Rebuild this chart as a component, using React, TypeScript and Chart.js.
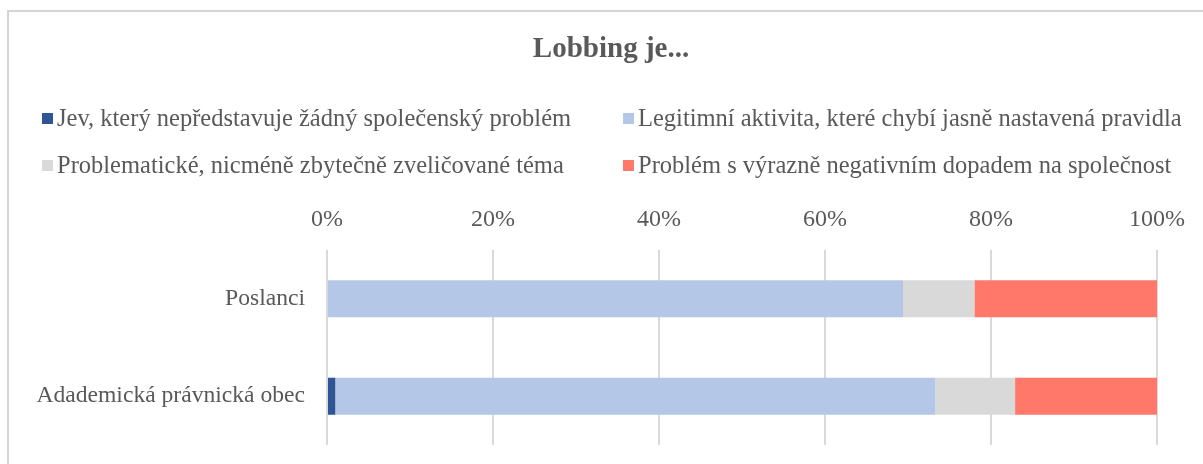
import React, { useEffect, useRef } from "react";
import { Chart, registerables } from "chart.js";

Chart.register(...registerables);

const categories = ["Poslanci", "Adademická právnická obec"];
const seriesLabels = [
  "Jev, který nepředstavuje žádný společenský problém",
  "Legitimní aktivita, které chybí jasně nastavená pravidla",
  "Problematické, nicméně zbytečně zveličované téma",
  "Problém s výrazně negativním dopadem na společnost",
];
const seriesColors = ["#2F5597", "#B4C7E7", "#D9D9D9", "#FF7869"];
const jevValues = [0, 1.0];
const legitimniValues = [69.4, 72.3];
const problematickeValues = [8.6, 9.6];
const problemValues = [22.0, 17.1];
const xTicks = [0, 20, 40, 60, 80, 100];
const chartTitle = "Lobbing je...";

const FONT = "'Liberation Serif', 'Times New Roman', serif";
const TEXT = "#595959";

const headerPlugin = {
  id: "header",
  afterDraw(chart: any) {
    const ctx = chart.ctx;
    ctx.save();
    ctx.fillStyle = TEXT;
    ctx.font = `bold 29px ${FONT}`;
    ctx.textAlign = "center";
    ctx.textBaseline = "alphabetic";
    ctx.fillText(chartTitle, 611, 57);

    ctx.font = `24.5px ${FONT}`;
    ctx.textAlign = "left";
    const colX = [42, 623];
    const rowY = [126, 173];
    chart.data.datasets.forEach((ds: any, i: number) => {
      const x = colX[i % 2];
      const y = rowY[Math.floor(i / 2)];
      ctx.fillStyle = ds.backgroundColor;
      ctx.fillRect(x, y - 13, 11, 11);
      ctx.fillStyle = TEXT;
      ctx.fillText(ds.label, x + 15, y);
    });
    ctx.restore();
  },
};

export default function App() {
  const ref = useRef<HTMLCanvasElement>(null);
  useEffect(() => {
    document.body.style.margin = "0";
    const values = [jevValues, legitimniValues, problematickeValues, problemValues];
    const chart = new Chart(ref.current!, {
      type: "bar",
      data: {
        labels: categories,
        datasets: seriesLabels.map((label, i) => ({
          label,
          data: values[i],
          backgroundColor: seriesColors[i],
          borderWidth: 0,
          barPercentage: 0.38,
          categoryPercentage: 1,
        })),
      },
      options: {
        indexAxis: "y",
        animation: false,
        responsive: false,
        layout: { padding: { top: 0, left: 0, right: 46, bottom: 19 } },
        plugins: {
          legend: { display: false },
          title: { display: false },
          tooltip: { enabled: false },
        },
        scales: {
          x: {
            stacked: true,
            position: "top",
            min: 0,
            max: 100,
            afterBuildTicks: (scale: any) => {
              scale.ticks = xTicks.map((v) => ({ value: v }));
            },
            afterFit: (scale: any) => {
              scale.height = 250;
            },
            ticks: {
              callback: (v: any) => `${v}%`,
              font: { family: FONT, size: 24 },
              color: TEXT,
              padding: 16,
              maxRotation: 0,
              autoSkip: false,
            },
            grid: { color: "#D9D9D9", lineWidth: 2, drawTicks: false },
            border: { display: false },
          },
          y: {
            stacked: true,
            afterFit: (scale: any) => {
              scale.width = 327;
              scale.paddingTop = 0;
              scale.paddingBottom = 0;
            },
            ticks: {
              font: { family: FONT, size: 23.6 },
              color: TEXT,
              padding: 22,
            },
            grid: { display: false, drawTicks: false },
            border: { display: false },
          },
        },
      },
      plugins: [headerPlugin],
    } as any);
    return () => chart.destroy();
  }, []);

  return (
    <div style={{ position: "relative", width: 1203, height: 464, overflow: "hidden", background: "#fff" }}>
      <div
        style={{
          position: "absolute",
          left: 7,
          top: 10,
          width: 1220,
          height: 480,
          border: "2px solid #D4D4D4",
          boxSizing: "border-box",
        }}
      />
      <canvas
        ref={ref}
        width={1203}
        height={464}
        style={{ position: "absolute", left: 0, top: 0, width: 1203, height: 464 }}
      />
    </div>
  );
}
